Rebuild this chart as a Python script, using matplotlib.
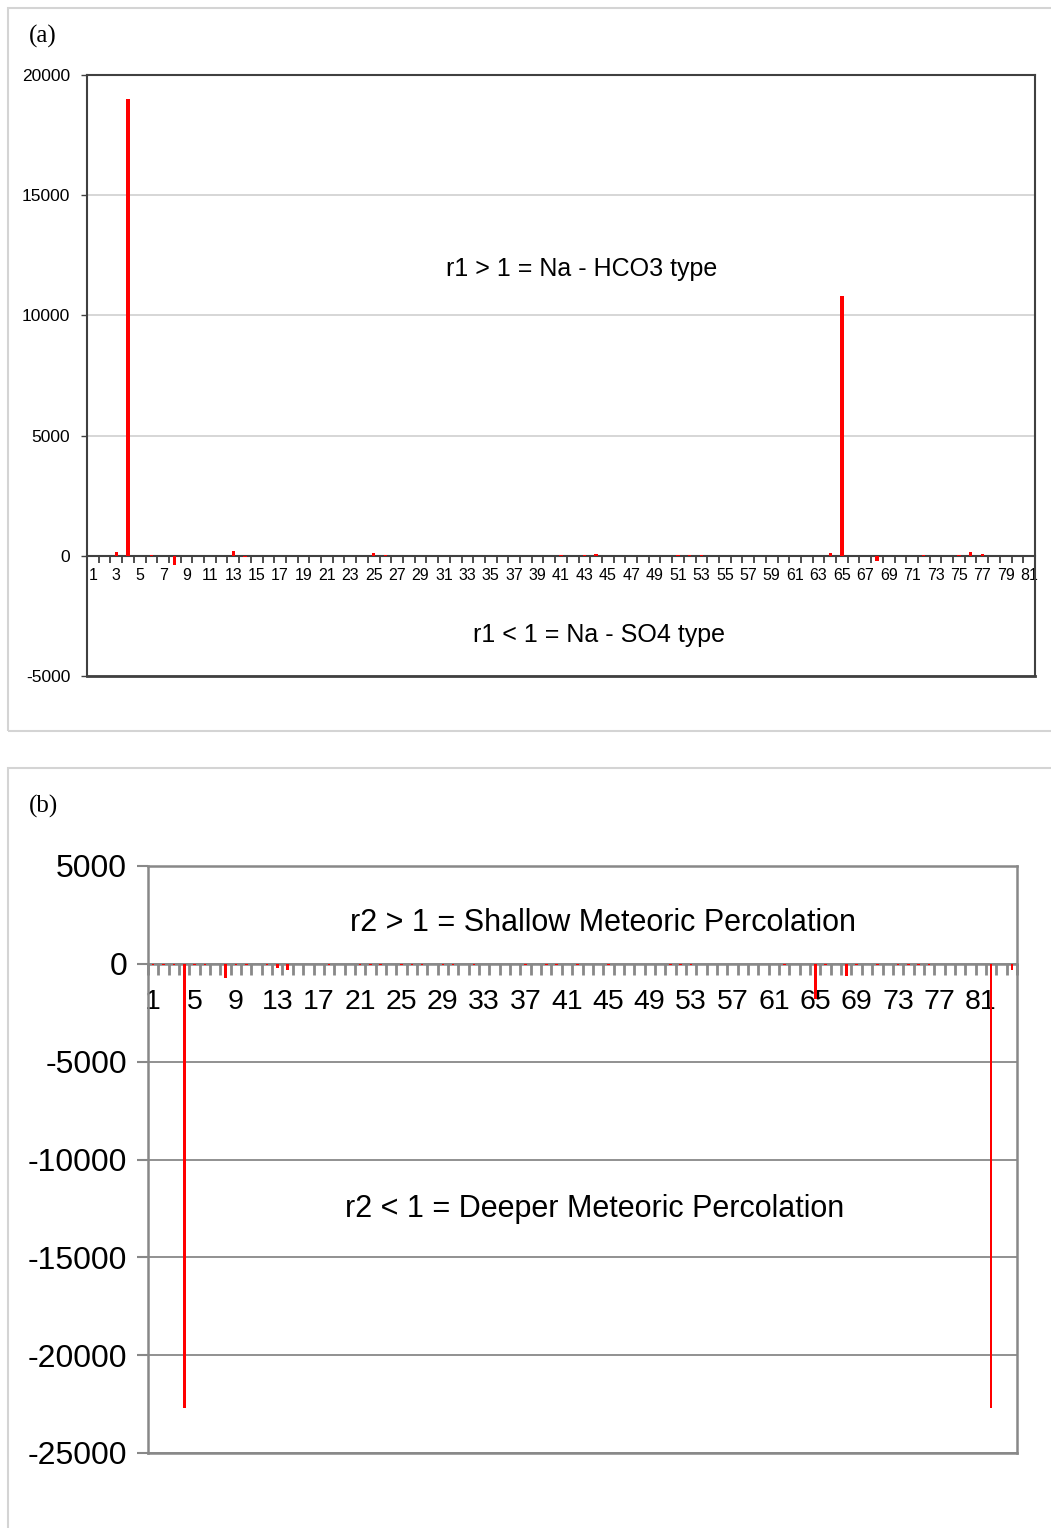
import matplotlib.pyplot as plt
from matplotlib.patches import Rectangle
import numpy as np

plt.rcParams['font.family'] = ['Liberation Sans', 'DejaVu Sans']

# panel (a): r1 values for samples 1..81
r1_values = [
    0, 0, 150, 19000, 0, 40, 0, -400, 0, 0,
    0, 0, 200, -60, 0, 0, 0, 0, 0, 0,
    0, 0, 0, 0, 100, 50, 0, 0, 0, 0,
    0, 0, 0, 0, 0, 0, 0, 0, 0, 0,
    40, 0, 40, 80, 0, 0, 0, 0, 0, 0,
    40, 50, 40, 0, 0, 0, 0, 0, 0, 0,
    0, 0, 0, 100, 10800, 0, 0, -200, 0, 0,
    0, 40, 0, 0, 40, 150, 60, 0, 0, 0,
    0,
]

# panel (b): r2 values for samples 1..84
r2_values = [
    -80, -60, -80, -22700, -60, -80, 0, -700, -60, -40,
    0, -60, -200, -300, 0, 0, 0, -60, 0, 0,
    -60, -40, -60, 0, -60, -60, -60, 0, -60, -60,
    0, -60, 0, 0, 0, 0, -60, 0, -60, -60,
    0, -60, 0, 0, -60, 0, 0, 0, 0, 0,
    -60, -60, -60, 0, 0, 0, 0, 0, 0, 0,
    0, -60, 0, 0, -1800, -60, 0, -600, -60, 0,
    -60, 0, -60, -60, -60, -60, 0, 0, 0, 0,
    0, -22700, 0, -300,
]

r1_yticks = [-5000, 0, 5000, 10000, 15000, 20000]
r2_yticks = [-25000, -20000, -15000, -10000, -5000, 0, 5000]

W, H = 1051, 1528
fig = plt.figure(figsize=(W / 100, H / 100), dpi=100)


def fx(px):
    return px / W


def fy(py):
    return 1 - py / H


# panel frames
fig.patches.append(Rectangle((fx(8), fy(731)), fx(1060) - fx(8), fy(8) - fy(731),
                             transform=fig.transFigure, fill=False,
                             edgecolor='#d4d4d4', linewidth=1.5))
fig.patches.append(Rectangle((fx(8), fy(1540)), fx(1060) - fx(8), fy(768) - fy(1540),
                             transform=fig.transFigure, fill=False,
                             edgecolor='#d4d4d4', linewidth=1.5))

fig.text(fx(29), fy(36), '(a)', family='Liberation Serif', fontsize=18, va='center')
fig.text(fx(29), fy(806), '(b)', family='Liberation Serif', fontsize=18, va='center')

# ---------------- panel (a)
ax1 = fig.add_axes([fx(87), fy(676), fx(1035) - fx(87), fy(75) - fy(676)])
n1 = len(r1_values)
x1 = np.arange(1, n1 + 1)
ax1.bar(x1, r1_values, width=0.28, color='#ff0000', zorder=3)
ax1.set_xlim(0.5, n1 + 0.5)
ax1.set_ylim(-5000, 20000)
ax1.set_yticks(r1_yticks)
ax1.set_yticklabels([str(v) for v in r1_yticks])
ax1.grid(axis='y', color='#d0d0d0', linewidth=1.2, zorder=0)
for s in ['top', 'left', 'right']:
    ax1.spines[s].set_color('#404040')
    ax1.spines[s].set_linewidth(1.5)
ax1.spines['bottom'].set_position(('data', 0))
ax1.spines['bottom'].set_color('#404040')
ax1.spines['bottom'].set_linewidth(1.5)
ax1.axhline(-5000, color='#404040', linewidth=2, clip_on=False, zorder=4)
ax1.set_xticks(np.arange(0.5, n1 + 1, 1))
ax1.set_xticklabels([])
ax1.set_xticks(x1[::2], minor=True)
ax1.set_xticklabels([str(v) for v in x1[::2]], minor=True)
ax1.tick_params(axis='x', which='major', length=5, width=1.3, color='#404040', direction='out')
ax1.tick_params(axis='x', which='minor', length=0, pad=9, labelsize=11.5)
ax1.tick_params(axis='y', length=4, width=1, color='#404040', labelsize=12.5, pad=8)
ax1.text(0.522, 0.678, 'r1 > 1 = Na - HCO3 type', transform=ax1.transAxes,
         ha='center', va='center', fontsize=18)
ax1.text(0.54, 0.068, 'r1 < 1 = Na - SO4 type', transform=ax1.transAxes,
         ha='center', va='center', fontsize=18)

# ---------------- panel (b)
ax2 = fig.add_axes([fx(148), fy(1453), fx(1017) - fx(148), fy(866) - fy(1453)])
n2 = len(r2_values)
x2 = np.arange(1, n2 + 1)
ax2.bar(x2, r2_values, width=0.25, color='#ff0000', zorder=3)
ax2.set_xlim(0.5, n2 + 0.5)
ax2.set_ylim(-25000, 5000)
ax2.set_yticks(r2_yticks)
ax2.set_yticklabels([str(v) for v in r2_yticks])
ax2.grid(axis='y', color='#888888', linewidth=1.3, zorder=0)
for s in ['top', 'left', 'right']:
    ax2.spines[s].set_color('#888888')
    ax2.spines[s].set_linewidth(1.8)
ax2.spines['bottom'].set_position(('data', 0))
ax2.spines['bottom'].set_color('#888888')
ax2.spines['bottom'].set_linewidth(1.8)
ax2.axhline(-25000, color='#888888', linewidth=1.8, clip_on=False, zorder=4)
ax2.set_xticks(np.arange(0.5, n2 + 1, 1))
ax2.set_xticklabels([])
ax2.set_xticks(x2[:81:4], minor=True)
ax2.set_xticklabels([str(v) for v in x2[:81:4]], minor=True)
ax2.tick_params(axis='x', which='major', length=8, width=2, color='#888888', direction='out')
ax2.tick_params(axis='x', which='minor', length=0, pad=18, labelsize=20.5)
ax2.tick_params(axis='y', length=8, width=1.5, color='#888888', labelsize=23, pad=7)
ax2.text(0.524, 0.903, 'r2 > 1 = Shallow Meteoric Percolation', transform=ax2.transAxes,
         ha='center', va='center', fontsize=22)
ax2.text(0.514, 0.416, 'r2 < 1 = Deeper Meteoric Percolation', transform=ax2.transAxes,
         ha='center', va='center', fontsize=22)

plt.savefig('out.png', dpi=100)
